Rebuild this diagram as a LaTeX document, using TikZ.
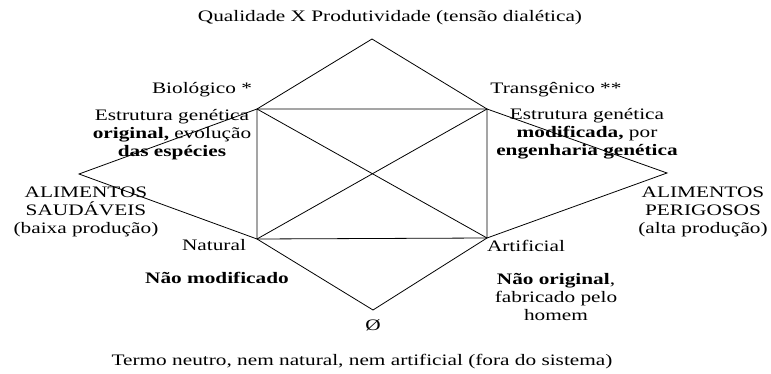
\documentclass[tikz,border=0pt]{standalone}
\usepackage{fontspec}
\setmainfont{Liberation Serif}[FakeStretch=1.33,BoldFont={Liberation Serif Bold},ItalicFont={Liberation Serif Italic}]
\begin{document}
\begin{tikzpicture}[x=1pt,y=-1pt,line width=0.8pt,
  txt/.style={inner sep=0pt,align=center,font=\fontsize{16}{18}\selectfont}]
\useasboundingbox (0,0) rectangle (771,374);
% vertices
\coordinate (T) at (372,39);
\coordinate (TL) at (257,109);
\coordinate (TR) at (487,109);
\coordinate (BL) at (257,239);
\coordinate (BR) at (487,238);
\coordinate (L) at (79,174);
\coordinate (R) at (667,173);
\coordinate (B) at (373,310);
% texts
\node[txt] (title) at (390,18) {Qualidade X Produtividade (tensão dialética)};
\node[txt] (bio) at (202,90) {Biológico *};
\node[txt] (trans) at (556,90) {Transgênico **};
\node[txt] (estl) at (172,135) {Estrutura genética\\\textbf{original,} evolução\\\textbf{das espécies}};
\node[txt] (estr) at (587,134) {Estrutura genética\\\textbf{modificada,} por\\\textbf{engenharia genética}};
\node[txt] (alis) at (86,212) {ALIMENTOS\\SAUDÁVEIS\\(baixa produção)};
\node[txt] (alip) at (703,212) {ALIMENTOS\\PERIGOSOS\\(alta produção)};
\node[txt] (nat) at (214,245) {Natural};
\node[txt] (art) at (526,246) {Artificial};
\node[txt] (naomod) at (217,278) {\textbf{Não modificado}};
\node[txt] (naoorig) at (556,297) {\textbf{Não original},\\fabricado pelo\\homem};
\node[txt] (vazio) at (373,325) {Ø};
\node[txt] (neutro) at (362,362) {Termo neutro, nem natural, nem artificial (fora do sistema)};
% lines
\draw (TL) -- (T) -- (TR);
\draw (TL) -- (TR) -- (BR) -- (BL) -- cycle;
\draw (TL) -- (BR);
\draw (TR) -- (BL);
\draw (TL) -- (L) -- (BL);
\draw (TR) -- (R) -- (BR);
\draw (BL) -- (B) -- (BR);
\end{tikzpicture}
\end{document}
